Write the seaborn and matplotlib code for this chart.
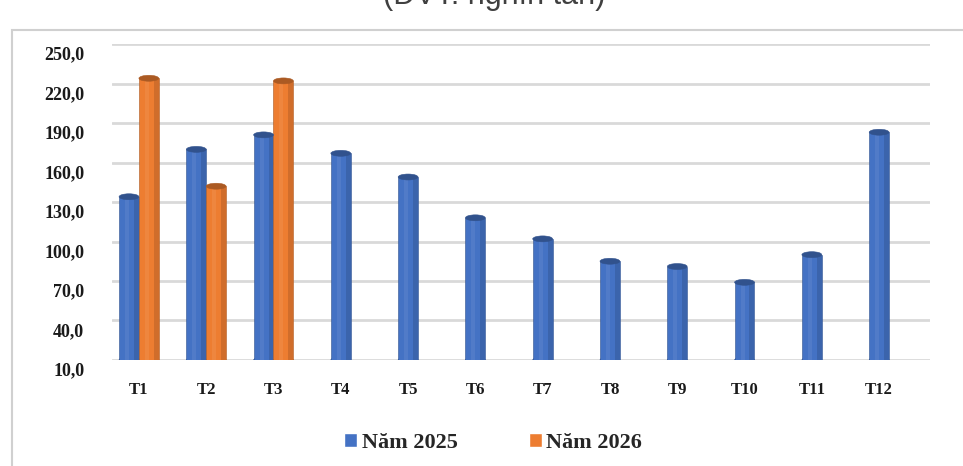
import matplotlib
matplotlib.use("Agg")
import matplotlib.pyplot as plt
from matplotlib.patches import Ellipse, Rectangle
from matplotlib.transforms import ScaledTranslation
import numpy as np
import pandas as pd
import seaborn as sns

# data (thousand tonnes)
months = ["T1", "T2", "T3", "T4", "T5", "T6", "T7", "T8", "T9", "T10", "T11", "T12"]
val_2025 = [134, 170, 181, 167, 149, 118, 102, 85, 81, 69, 90, 183]
val_2026 = [224, 142, 222]
series = ["Năm 2025", "Năm 2026"]
y_ticks = [10, 40, 70, 100, 130, 160, 190, 220, 250]
title = "(ĐVT: nghìn tấn)"

BLUE = "#4472C4"
ORANGE = "#ED7D31"

def main():
    sns.set_theme(style="white")
    plt.rcParams["font.family"] = ["Liberation Serif", "DejaVu Serif"]

    n26 = len(val_2026)
    df_both = pd.DataFrame({
        "month": months[:n26] * 2,
        "year": [series[0]] * n26 + [series[1]] * n26,
        "value": val_2025[:n26] + val_2026,
    })
    df_single = pd.DataFrame({"month": months[n26:], "value": val_2025[n26:]})

    fig = plt.figure(figsize=(9.63, 4.66), dpi=100)
    ax = fig.add_axes([0.1163, 0.2275, 0.849, 0.678])

    sns.barplot(data=df_both, x="month", y="value", hue="year", order=months,
                hue_order=series, palette=[BLUE, ORANGE], width=0.59,
                saturation=1, ax=ax, zorder=3)
    handles, labels = ax.get_legend_handles_labels()
    sns.barplot(data=df_single, x="month", y="value", order=months,
                color=BLUE, width=0.295, saturation=1, ax=ax, zorder=3)
    if ax.get_legend() is not None:
        ax.get_legend().remove()

    ax.set_ylim(10, 250)
    ax.set_xlim(-0.4, 11.75)

    # cylinder look: rounded caps built from the drawn bars
    ell_h = 4.5
    for p in list(ax.patches):
        h = p.get_height()
        if h is None or np.isnan(h) or h <= 0:
            continue
        fc = p.get_facecolor()
        dark = tuple(c * 0.72 for c in fc[:3])
        x0, w = p.get_x(), p.get_width()
        p.set_edgecolor(dark)
        p.set_linewidth(0.4)
        ax.add_patch(Ellipse((x0 + w / 2, 10), w, ell_h, facecolor=fc,
                             edgecolor=dark, lw=0.4, zorder=2.9))
        ax.add_patch(Ellipse((x0 + w / 2, h), w, ell_h, facecolor=dark,
                             edgecolor=dark, lw=0.4, zorder=3.1))
        # shading: darker right side, light stripe left of centre
        ax.add_patch(Rectangle((x0 + w * 0.75, 10), w * 0.25, h - 10,
                               facecolor="black", alpha=0.12, lw=0, zorder=3.05))
        ax.add_patch(Rectangle((x0 + w * 0.3, 10), w * 0.2, h - 10,
                               facecolor="white", alpha=0.07, lw=0, zorder=3.05))

    ax.set_yticks(y_ticks)
    ax.set_yticklabels([f"{v:.1f}".replace(".", ",") for v in y_ticks],
                       fontsize=13, fontweight="bold")
    ax.set_xticks(range(len(months)))
    ax.set_xticklabels(months, fontsize=12, fontweight="bold")
    ax.tick_params(axis="y", length=0, pad=20, colors="#1a1a1a")
    ax.tick_params(axis="x", length=0, pad=16, colors="#1a1a1a")
    # labels sit on the front plane of the 3D chart, a little below the back grid
    shift = ScaledTranslation(0, -9 / 100, fig.dpi_scale_trans)
    for lab in ax.get_yticklabels():
        lab.set_transform(lab.get_transform() + shift)
    ax.set_xlabel("")
    ax.set_ylabel("")

    ax.yaxis.grid(True, color="#D9D9D9", linewidth=2, zorder=0)
    ax.set_axisbelow(True)
    for s in ax.spines.values():
        s.set_visible(False)

    fig.legend(handles, labels, loc="center", bbox_to_anchor=(0.512, 0.05),
               ncol=2, frameon=False, handlelength=0.6, handleheight=0.6,
               handletextpad=0.2, columnspacing=3.2,
               prop={"family": "Liberation Serif", "weight": "bold", "size": 16})

    # outer chart frame, partly cut by the screenshot
    fig.patches.append(Rectangle((12 / 963, -0.1), 1.2, (466 - 30) / 466 + 0.1,
                                 transform=fig.transFigure, fill=False,
                                 edgecolor="#D0D0D0", lw=1.5))
    # title is cropped by the top edge in the source screenshot
    fig.text(494 / 963, (466 - 4) / 466, title, ha="center", va="baseline",
             fontsize=22, color="#404040", family=["Liberation Sans", "DejaVu Sans"])

    fig.savefig("out.png", dpi=100)

if __name__ == "__main__":
    main()
